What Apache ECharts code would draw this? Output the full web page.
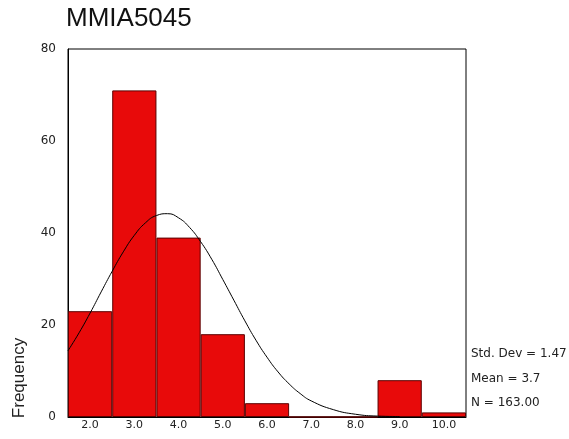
<!DOCTYPE html>
<html>
<head>
<meta charset="utf-8">
<script src="https://cdn.jsdelivr.net/npm/echarts@6/dist/echarts.min.js"></script>
<style>
html,body{margin:0;padding:0;background:#fff;}
#chart{width:569px;height:439px;}
</style>
</head>
<body>
<div id="chart"></div>
<script>
const categories = ['2.0','3.0','4.0','5.0','6.0','7.0','8.0','9.0','10.0'];
const frequencies = [23, 71, 39, 18, 3, 0, 0, 8, 1];
const curveX = [1.5,1.75,2.0,2.25,2.5,2.75,3.0,3.25,3.5,3.75,4.0,4.25,4.5,4.75,5.0,5.25,5.5,5.75,6.0,6.25,6.5,6.75,7.0,7.5,8.0,8.5,9.0];
const curveY = [14.4,18.3,22.6,27.2,31.7,35.9,39.5,42.2,43.8,44.2,43.3,41.2,38.1,34.3,29.9,25.4,20.9,16.7,13.0,9.8,7.2,5.1,3.5,1.6,0.6,0.2,0.1];
const yTicks = [0, 20, 40, 60, 80];
const statsLines = ['Std. Dev = 1.47', 'Mean = 3.7', 'N = 163.00'];
const titleText = 'MMIA5045';
const yName = 'Frequency';

const chart = echarts.init(document.getElementById('chart'), null, {renderer:'canvas'});
const option = {
  animation: false,
  backgroundColor: '#fff',
  grid: {left: 68, right: 103, top: 49, bottom: 22, show: true, borderColor: '#000', borderWidth: 1, backgroundColor: 'transparent'},
  xAxis: [
    {type: 'category', data: categories, boundaryGap: true,
     axisLine: {show: true, lineStyle: {color: '#000', width: 1}},
     axisTick: {show: false},
     axisLabel: {color: '#222', fontFamily: 'DejaVu Sans', fontSize: 11, margin: 3},
     splitLine: {show: false}},
    {type: 'value', min: 1.5, max: 10.5, show: false}
  ],
  yAxis: {type: 'value', min: yTicks[0], max: yTicks[yTicks.length-1], interval: 20,
    axisLine: {show: true, lineStyle: {color: '#000', width: 1}},
    axisTick: {show: false},
    axisLabel: {color: '#222', fontFamily: 'DejaVu Sans', fontSize: 12, margin: 12},
    splitLine: {show: false}},
  series: [
    {type: 'bar', xAxisIndex: 0, data: frequencies, barCategoryGap: '0%', barWidth: '100%',
     itemStyle: {color: '#e80a0a', borderColor: '#5a0000', borderWidth: 1}},
    {type: 'line', xAxisIndex: 1, data: curveX.map((x, i) => [x, curveY[i]]), smooth: true,
     showSymbol: false, lineStyle: {color: '#000', width: 1}, z: 5}
  ],
  graphic: [
    {type: 'text', left: 66, top: 6, style: {text: titleText, fontFamily: 'Liberation Sans', fontSize: 26, fill: '#111'}},
    {type: 'text', x: 19, y: 378, rotation: Math.PI/2, style: {text: yName, fontFamily: 'Liberation Sans', fontSize: 17, fill: '#222', textAlign: 'center', textVerticalAlign: 'middle'}},
    ...statsLines.map((t, i) => ({type: 'text', x: 471, y: 354 + i*24.5, style: {text: t, fontFamily: 'DejaVu Sans', fontSize: 12, fill: '#222', textVerticalAlign: 'middle'}}))
  ]
};
chart.setOption(option);
</script>
</body>
</html>
